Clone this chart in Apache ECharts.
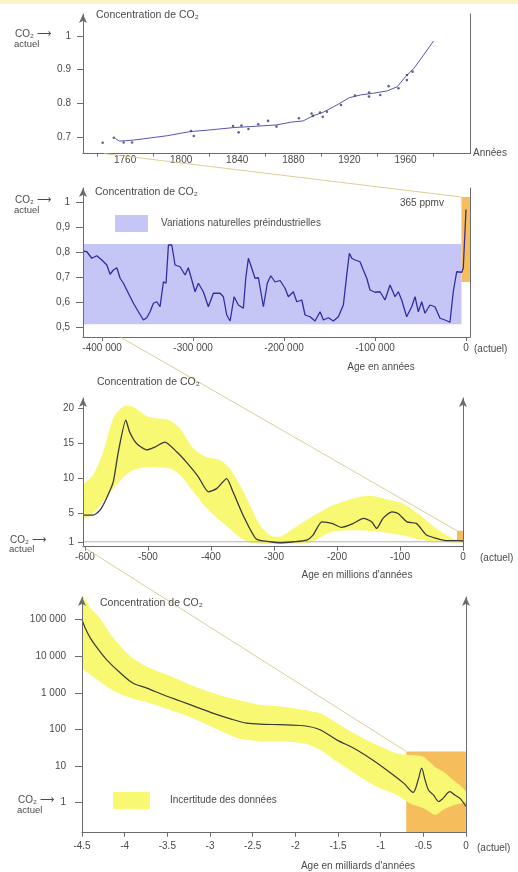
<!DOCTYPE html>
<html>
<head>
<meta charset="utf-8">
<script src="https://cdn.jsdelivr.net/npm/echarts@6/dist/echarts.min.js"></script>
<style>
html,body{margin:0;padding:0;background:#fff;}
#chart{width:518px;height:872px;}
</style>
</head>
<body>
<div id="chart"></div>
<script>
// ---------- Panel 1: direct measurements, 1750 to today (ratio to present CO2) ----------
const p1Years = [1753,1756,1766,1790,1806,1820,1837,1849,1868,1878,1887,1894,1901,1911,1920,1928,1937,1947,1954,1960,1966,1973,1980];
const p1Trend = [0.696,0.688,0.691,0.704,0.716,0.721,0.728,0.731,0.736,0.744,0.748,0.763,0.773,0.795,0.817,0.825,0.830,0.837,0.849,0.879,0.904,0.944,0.985];
const p1SampleYears = [1744,1752,1759,1765,1807,1809,1837,1841,1843,1848,1855,1862,1868,1884,1893,1894,1899,1901,1904,1914,1924,1934,1934,1942,1948,1955,1961,1961,1965];
const p1SampleVals = [0.683,0.698,0.684,0.684,0.718,0.703,0.733,0.714,0.734,0.724,0.738,0.748,0.731,0.756,0.770,0.763,0.773,0.760,0.775,0.795,0.823,0.832,0.820,0.825,0.851,0.845,0.884,0.869,0.894];
const p1XLabels = [1760,1800,1840,1880,1920,1960];
const p1XTicks = [1740,1780,1820,1860,1900,1940,1980];
const p1YLabels = [0.7,0.8,0.9,1];

// ---------- Panel 2: ice core record, last 420 000 years ----------
const p2Ages = [-421000,-416800,-411300,-405800,-400300,-394800,-391200,-387600,-383800,-380200,-376600,-371100,-365600,-360100,-354600,-350900,-347300,-343600,-339900,-336300,-332600,-329700,-327100,-323400,-319800,-314300,-308800,-305200,-301400,-297800,-294200,-288700,-283200,-277700,-270300,-266700,-263000,-259300,-254900,-250200,-244700,-242100,-239200,-235500,-231900,-228200,-222700,-218400,-214600,-209900,-204400,-198900,-195300,-189800,-186000,-180500,-176900,-171400,-165900,-160400,-156800,-151300,-145800,-140300,-134800,-131100,-128200,-125600,-122000,-116500,-112900,-109100,-105500,-100000,-94500,-89000,-83500,-78000,-74400,-70700,-65200,-59700,-56000,-52400,-48700,-45100,-39600,-34100,-28600,-23100,-17600,-14000,-10200,-4700,-3000,-1000,0];
const p2Vals = [0.804,0.801,0.775,0.785,0.768,0.748,0.711,0.728,0.737,0.695,0.675,0.635,0.595,0.561,0.528,0.537,0.561,0.595,0.601,0.581,0.681,0.675,0.828,0.828,0.748,0.741,0.708,0.737,0.688,0.641,0.675,0.641,0.581,0.635,0.635,0.621,0.548,0.524,0.621,0.588,0.575,0.695,0.775,0.735,0.695,0.697,0.581,0.675,0.705,0.680,0.686,0.655,0.621,0.641,0.601,0.608,0.548,0.541,0.524,0.561,0.528,0.537,0.524,0.541,0.588,0.708,0.795,0.775,0.768,0.761,0.728,0.695,0.648,0.639,0.641,0.608,0.668,0.621,0.641,0.608,0.541,0.581,0.621,0.561,0.601,0.555,0.588,0.581,0.535,0.528,0.519,0.641,0.721,0.719,0.735,0.74,0.97];
const p2NaturalRange = [0.511, 0.832];
const p2Window = [-5000, 4400, 0.68, 1.02];   // age from, age to, low, high (extent of panel 1)
const p2XLabels = [-400000,-300000,-200000,-100000,0];
const p2YLabels = [0.5,0.6,0.7,0.8,0.9,1];

// ---------- Panel 3: last 600 million years ----------
const p3Ages = [-603,-587,-576,-566,-555,-547,-535,-529,-518,-502,-489,-473,-454,-439,-420,-404,-391,-375,-365,-349,-328,-306,-291,-269,-248,-238,-224,-208,-193,-174,-158,-145,-137,-127,-113,-103,-89,-74,-58,-42,-26,-5,0];
const p3Vals = [4.77,4.77,5.48,7.11,9.50,13.73,18.26,16.58,14.95,14.03,14.44,15.15,13.73,12.30,10.22,8.09,8.54,9.96,8.09,4.77,1.38,1.0,0.86,1.0,1.24,1.95,3.83,3.61,3.04,3.61,4.32,3.83,2.90,4.32,5.25,5.02,3.83,3.61,1.95,1.48,1.15,1.15,1.11];
const p3BandAges = [-603,-587,-571,-555,-539,-523,-502,-486,-465,-449,-428,-407,-386,-370,-354,-338,-322,-306,-290,-275,-243,-211,-179,-148,-116,-95,-68,-42,-15,0];
const p3BandHigh = [8.9,10.47,13.73,18.51,20.24,20.14,18.82,18.51,18.21,17.09,14.24,13.02,12.61,11.39,9.04,6.19,3.34,1.92,1.72,2.53,4.36,5.99,7.01,7.52,6.91,6.40,4.77,2.84,1.41,1.11];
const p3BandLow = [4.36,4.97,6.70,8.54,10.16,11.18,11.59,11.59,11.39,10.47,8.13,5.79,4.06,2.84,1.61,0.90,0.70,0.70,0.70,0.70,0.90,2.33,2.63,2.53,2.22,1.92,1.31,1.0,0.90,0.90];
const p3Window = [-9.5, 6.3, 1.03, 2.56];
const p3XLabels = [-600,-500,-400,-300,-200,-100,0];
const p3YLabels = [1,5,10,15,20];

// ---------- Panel 4: 4.5 billion years (logarithmic) ----------
const p4Ages = [-4.5,-4.46,-4.4,-4.32,-4.21,-4.05,-3.9,-3.74,-3.54,-3.35,-3.15,-2.96,-2.76,-2.57,-2.37,-2.18,-1.9,-1.71,-1.51,-1.32,-1.12,-0.93,-0.73,-0.62,-0.56,-0.52,-0.48,-0.44,-0.38,-0.32,-0.27,-0.19,-0.13,-0.07,0];
const p4Vals = [100000,57500,30900,16600,7940,3470,1820,1350,870,600,400,275,195,148,138,135,126,98,51,31,16,7.8,3.4,1.9,4.2,8.7,4.2,2.2,1.6,1.07,1.3,2.0,1.6,1.3,0.78];
const p4BandAges = [-4.5,-4.4,-4.29,-4.13,-3.93,-3.74,-3.5,-3.23,-2.96,-2.68,-2.41,-2.18,-1.9,-1.71,-1.51,-1.28,-1.05,-0.81,-0.66,-0.5,-0.36,-0.27,-0.15,0];
const p4BandHigh = [500000,204000,110000,31000,9800,5200,3100,1660,980,650,470,420,340,275,148,71,38,22,20,18,9.3,7.1,4.2,2.0];
const p4BandLow = [5200,3100,2000,1120,720,550,360,215,112,58,47,47,42,28,13,5.8,2.75,1.6,0.95,0.71,0.46,0.63,0.85,1.07];
const p4Window = [-0.7, 0, 0.15, 25];
const p4XLabels = [-4.5,-4,-3.5,-3,-2.5,-2,-1.5,-1,-0.5,0];

// ---------- styles ----------
const FONT = '"Liberation Sans", Arial, sans-serif';
const AXIS = '#6b6b6b';
const TXT = '#4a4a4a';
const BLUE_BAND = '#c6c6f6';
const YELLOW = '#f9f872';
const ORANGE = '#f6bd5c';

const zip = (xs, ys) => xs.map((x, i) => [x, ys[i]]);

function leftY(grid, min, max, labels, fmt, tickLen, margin) {
  return {
    type: 'value', gridIndex: grid, min, max, position: 'left', z: 5,
    axisLine: {show: true, onZero: false, symbol: ['none', 'arrow'], symbolSize: [6, 9], lineStyle: {color: AXIS, width: 1}},
    axisTick: {show: true, length: tickLen, customValues: labels, lineStyle: {color: AXIS}},
    axisLabel: {customValues: labels, formatter: fmt, margin, color: TXT, fontSize: 10, fontFamily: FONT},
    splitLine: {show: false}
  };
}
function rightY(grid, min, max, arrow, type) {
  return {
    type: type || 'value', gridIndex: grid, min, max, position: 'right', z: 5,
    axisLine: {show: true, onZero: false, symbol: arrow ? ['none', 'arrow'] : 'none', symbolSize: [6, 9], lineStyle: {color: AXIS, width: 1}},
    axisTick: {show: false}, axisLabel: {show: false}, splitLine: {show: false}
  };
}
function bottomX(grid, min, max, labels, ticks, fmt, margin, tickLen, extra) {
  return Object.assign({
    type: 'value', gridIndex: grid, min, max, position: 'bottom', z: 5,
    axisLine: {show: true, onZero: false, lineStyle: {color: AXIS, width: 1}},
    axisTick: {show: true, length: tickLen, customValues: ticks, lineStyle: {color: AXIS}},
    axisLabel: {customValues: labels, formatter: fmt, margin, color: TXT, fontSize: 10, fontFamily: FONT},
    splitLine: {show: false}
  }, extra || {});
}
function band(name, xi, yi, ages, low, high, color, z) {
  return {
    type: 'custom', name, xAxisIndex: xi, yAxisIndex: yi, z, clip: true, silent: true,
    itemStyle: {color},
    data: [[ages[0], high[0]]],
    renderItem(params, api) {
      const pts = [];
      for (let i = 0; i < ages.length; i++) pts.push(api.coord([ages[i], high[i]]));
      for (let i = ages.length - 1; i >= 0; i--) pts.push(api.coord([ages[i], low[i]]));
      return {type: 'polygon', shape: {points: pts, smooth: 0.25}, style: {fill: color}};
    }
  };
}
function windowArea(xi, yi, w, color, z) {
  return {
    type: 'line', xAxisIndex: xi, yAxisIndex: yi, data: [], z, clip: false, silent: true,
    markArea: {silent: true, itemStyle: {color, opacity: 1}, label: {show: false},
      data: [[{coord: [w[0], w[2]]}, {coord: [w[1], w[3]]}]]}
  };
}
const dec = (v, sep) => (v === 1 ? '1' : v.toFixed(1).replace('.', sep));
const spaced = v => String(v).replace(/\B(?=(\d{3})+(?!\d))/g, ' ');

const chart = echarts.init(document.getElementById('chart'), null, {renderer: 'canvas'});

const option = {
  backgroundColor: '#ffffff',
  animation: false,
  textStyle: {fontFamily: FONT},
  grid: [
    {left: 83, top: 14, width: 387, height: 139.6},
    {left: 83, top: 188, width: 387, height: 149},
    {left: 83, top: 398, width: 380, height: 148.7},
    {left: 82, top: 597, width: 384, height: 235.7}
  ],
  legend: [
    {left: 115, top: 215, padding: 0, itemWidth: 33, itemHeight: 17, icon: 'rect', selectedMode: false,
     data: ['Variations naturelles préindustrielles'],
     textStyle: {color: TXT, fontSize: 10, fontFamily: FONT, padding: [0, 0, 0, 8]}},
    {left: 113, top: 792, padding: 0, itemWidth: 37, itemHeight: 17, icon: 'rect', selectedMode: false,
     data: ['Incertitude des données'],
     textStyle: {color: TXT, fontSize: 10, fontFamily: FONT, padding: [0, 0, 0, 15]}}
  ],
  xAxis: [
    bottomX(0, 1730, 2006, p1XLabels, p1XTicks, v => String(v), 2, 3,
      {name: 'Années', nameLocation: 'end', nameGap: 3, nameTextStyle: {color: TXT, fontSize: 10, padding: [4, 0, 0, 0]}}),
    bottomX(1, -421000, 4400, p2XLabels, p2XLabels, v => (v === 0 ? '0' : spaced(v).replace('- ', '-')), 6, 4),
    bottomX(2, -603, 0, p3XLabels, p3XLabels, v => String(v), 6, 4),
    bottomX(3, -4.5, 0, p4XLabels, p4XLabels, v => String(v), 9, 4)
  ],
  yAxis: [
    leftY(0, 0.651, 1.065, p1YLabels, v => dec(v, '.'), 6, 12),
    rightY(0, 0.651, 1.065, false),
    leftY(1, 0.46, 1.056, p2YLabels, v => dec(v, ','), 7, 13),
    rightY(1, 0.46, 1.056, false),
    leftY(2, 0.3, 21.4, p3YLabels, v => String(v), 5, 9),
    rightY(2, 0.3, 21.4, true),
    {
      type: 'log', logBase: 10, gridIndex: 3, min: 0.15, max: 417000, position: 'left', z: 5,
      axisLine: {show: true, onZero: false, symbol: ['none', 'arrow'], symbolSize: [6, 9], lineStyle: {color: AXIS, width: 1}},
      axisTick: {show: true, length: 7, lineStyle: {color: AXIS}},
      axisLabel: {showMinLabel: false, showMaxLabel: false, formatter: v => spaced(Math.round(v)), margin: 16, color: TXT, fontSize: 10, fontFamily: FONT},
      splitLine: {show: false}, minorTick: {show: false}
    },
    rightY(3, 0.15, 417000, true, 'log')
  ],
  series: [
    // panel 1
    {type: 'line', xAxisIndex: 0, yAxisIndex: 0, data: zip(p1Years, p1Trend), symbol: 'none', z: 3,
     lineStyle: {color: '#5656b4', width: 1}},
    {type: 'scatter', xAxisIndex: 0, yAxisIndex: 0, data: zip(p1SampleYears, p1SampleVals), symbolSize: 2.6, z: 4,
     itemStyle: {color: '#3c3c6c'}},
    // panel 2
    {type: 'line', name: 'Variations naturelles préindustrielles', xAxisIndex: 1, yAxisIndex: 2, data: [], z: 1,
     color: BLUE_BAND, silent: true,
     markArea: {silent: true, itemStyle: {color: BLUE_BAND, opacity: 1}, label: {show: false},
       data: [[{coord: [-421000, p2NaturalRange[0]]}, {coord: [-5000, p2NaturalRange[1]]}]]}},
    windowArea(1, 2, p2Window, ORANGE, 2),
    {type: 'line', xAxisIndex: 1, yAxisIndex: 2, data: zip(p2Ages, p2Vals), symbol: 'none', z: 3,
     lineStyle: {color: '#2f2fa0', width: 1.3}},
    // panel 3
    band('Incertitude des données', 2, 4, p3BandAges, p3BandLow, p3BandHigh, YELLOW, 1),
    {type: 'line', xAxisIndex: 2, yAxisIndex: 4, data: [[-603, 1], [0, 1]], symbol: 'none', z: 2, silent: true,
     lineStyle: {color: '#b4b4b4', width: 1}},
    windowArea(2, 4, p3Window, ORANGE, 2),
    {type: 'line', xAxisIndex: 2, yAxisIndex: 4, data: zip(p3Ages, p3Vals), symbol: 'none', smooth: 0.2, z: 3,
     lineStyle: {color: '#3a3a3a', width: 1.3}},
    // panel 4
    windowArea(3, 6, p4Window, ORANGE, 1),
    band('Incertitude des données', 3, 6, p4BandAges, p4BandLow, p4BandHigh, YELLOW, 2),
    {type: 'line', xAxisIndex: 3, yAxisIndex: 6, data: zip(p4Ages, p4Vals), symbol: 'none', smooth: 0.3, z: 3,
     lineStyle: {color: '#3a3a3a', width: 1.2}}
  ]
};
chart.setOption(option);

// ---------- annotations and the zoom connectors between panels ----------
const px = (g, pt) => chart.convertToPixel({gridIndex: g}, pt);
const txt = (text, x, y, opts) => ({type: 'text', x, y, silent: true, z: 20,
  style: Object.assign({text, fill: TXT, font: '10px ' + FONT, textVerticalAlign: 'middle'}, opts || {})});
const link = (a, b) => ({type: 'line', silent: true, z: 15,
  shape: {x1: a[0], y1: a[1], x2: b[0], y2: b[1]}, style: {stroke: '#d6c98e', lineWidth: 1, opacity: 0.9}});

const one = [px(0, [1730, 1])[1], px(1, [-421000, 1])[1], px(2, [-603, 1])[1], px(3, [-4.5, 1])[1]];
const graphics = [
  {type: 'rect', shape: {x: 0, y: 0, width: 518, height: 4}, style: {fill: '#fbf3c6'}, silent: true},
  link(px(0, [1745, 0.651]), px(1, [p2Window[0], p2Window[3]])),
  link(px(1, [-380000, 0.46]), px(2, [p3Window[0], p3Window[3]])),
  link(px(2, [-603, 0.3]), px(3, [p4Window[0], p4Window[3]])),
  txt('Concentration de CO₂', 96, 15, {font: '10.5px ' + FONT}),
  txt('Concentration de CO₂', 95, 192, {font: '10.5px ' + FONT}),
  txt('Concentration de CO₂', 97, 382, {font: '10.5px ' + FONT}),
  txt('Concentration de CO₂', 100, 603, {font: '10.5px ' + FONT}),
  txt('365 ppmv', 400, 203),
  txt('Age en années', 381, 367, {textAlign: 'center'}),
  txt("Age en millions d'années", 357, 575, {textAlign: 'center'}),
  txt("Age en milliards d'années", 358, 866, {textAlign: 'center'}),
  txt('(actuel)', 474, 349),
  txt('(actuel)', 480, 558),
  txt('(actuel)', 477, 848)
];
const coLeft = [15, 15, 10, 18];
one.forEach((y, i) => {
  graphics.push(txt('CO₂ ⟶', coLeft[i], y - 2));
  graphics.push(txt('actuel', coLeft[i] - 1, y + 8, {font: '9.5px ' + FONT}));
});
chart.setOption({graphic: graphics});
</script>
</body>
</html>
